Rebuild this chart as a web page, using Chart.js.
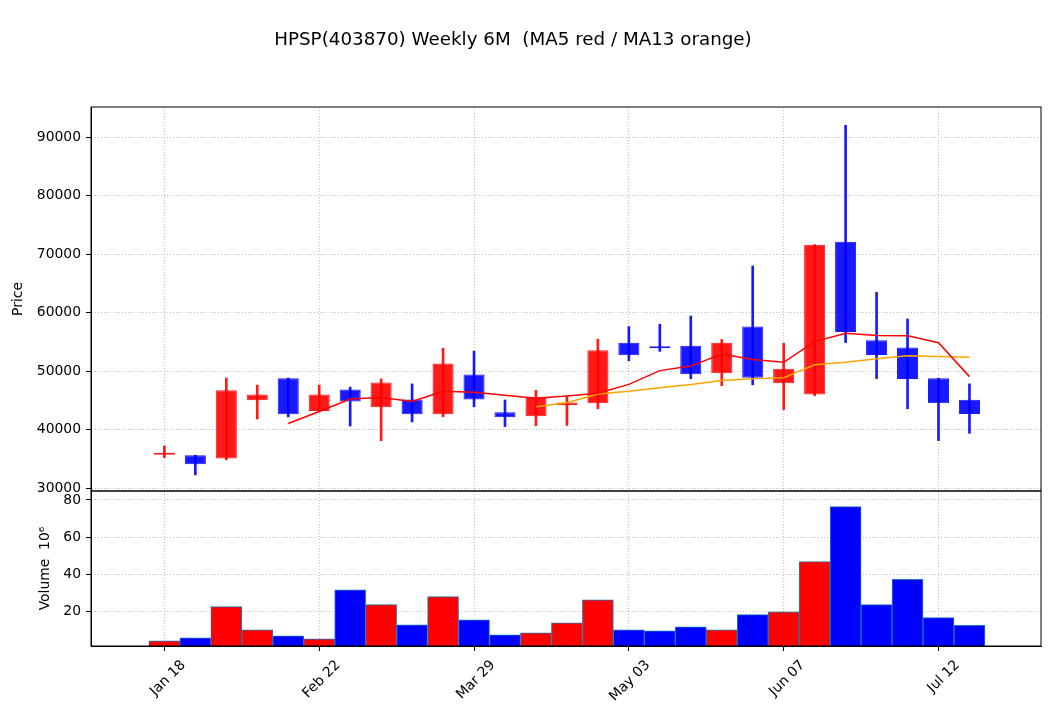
<!DOCTYPE html>
<html>
<head>
<meta charset="utf-8">
<title>HPSP(403870) Weekly 6M</title>
<script src="https://cdn.jsdelivr.net/npm/chart.js@4.4.1/dist/chart.umd.min.js"></script>
<style>
  html, body { margin: 0; padding: 0; background: #fff; }
  #wrap { width: 1052px; height: 718px; }
</style>
</head>
<body>
<div id="wrap"><canvas id="chart" width="1052" height="718"></canvas></div>
<script>
// weekly candles, one per week starting Jan 18
const weeks = [0, 1, 2, 3, 4, 5, 6, 7, 8, 9, 10, 11, 12, 13, 14, 15, 16, 17, 18, 19, 20, 21, 22, 23, 24, 25, 26];
const opens  = [35700, 35600, 35050, 45000, 48750, 43150, 46850, 43800, 45150, 42600, 49400, 42950, 42250, 44200, 44500, 54850, 54200, 54300, 49600, 57600, 47900, 46000, 72100, 55250, 54000, 48750, 45100];
const highs  = [37200, 35600, 48800, 47600, 48800, 47600, 47250, 48650, 47800, 53900, 53400, 45050, 46700, 45700, 55450, 57600, 58000, 59400, 55400, 67950, 54750, 71600, 92000, 63450, 58900, 48750, 47800];
const lows   = [35200, 32250, 34800, 41800, 42150, 43100, 40600, 38100, 41300, 42200, 43900, 40500, 40650, 40700, 43550, 51750, 53350, 48700, 47500, 47650, 43400, 45800, 54850, 48700, 43550, 38100, 39350];
const closes = [35800, 34050, 46700, 46000, 42600, 46000, 44800, 48050, 42600, 51300, 45150, 42100, 45600, 44600, 53550, 52700, 53900, 49450, 54850, 48850, 50400, 71600, 56650, 52750, 48650, 44500, 42650];
const ma5  = [null, null, null, null, 41030, 43070, 45220, 45490, 44810, 46550, 46380, 45840, 45350, 45750, 46200, 47710, 50070, 50840, 52890, 51950, 51490, 55030, 56470, 56050, 56010, 54830, 49040];
const ma13 = [null, null, null, null, null, null, null, null, null, null, null, null, 43900, 44580, 46080, 46540, 47150, 47680, 48360, 48670, 48850, 51080, 51490, 52080, 52590, 52500, 52350];
const volumes = [4.4, 6.0, 22.7, 10.3, 7.1, 5.5, 31.8, 23.8, 13.0, 28.1, 15.7, 7.6, 8.7, 14.1, 26.4, 10.3, 9.8, 11.9, 10.3, 18.4, 20.0, 46.9, 76.4, 23.8, 37.4, 16.8, 12.7];

const xTickIdx = [0, 5, 10, 15, 20, 25];
const xTickLabels = ['Jan 18', 'Feb 22', 'Mar 29', 'May 03', 'Jun 07', 'Jul 12'];
const priceTicks = [30000, 40000, 50000, 60000, 70000, 80000, 90000];
const volumeTicks = [20, 40, 60, 80];

const FONT = 'DejaVu Sans';
const UP = 'rgba(255,0,0,0.9)';
const DOWN = 'rgba(0,0,255,0.9)';

const isUp = weeks.map(i => closes[i] >= opens[i]);
const candleColor = isUp.map(u => u ? UP : DOWN);
const volColor = isUp.map(u => u ? '#ff0000' : '#0000ff');

// frame around each panel + suptitle + axis labels
const framePlugin = {
    id: 'frame',
    afterDraw(chart) {
        const ctx = chart.ctx;
        const { left, right } = chart.chartArea;
        const yp = chart.scales.y;
        const yv = chart.scales.yv;
        ctx.save();
        ctx.strokeStyle = '#000';
        ctx.lineWidth = 1;
        ctx.strokeRect(left, yp.top, right - left, yp.bottom - yp.top);
        ctx.strokeRect(left, yv.top, right - left, yv.bottom - yv.top);

        ctx.fillStyle = '#000';
        ctx.textAlign = 'center';
        ctx.textBaseline = 'middle';
        ctx.font = '18.3px "' + FONT + '"';
        ctx.fillText('HPSP(403870) Weekly 6M  (MA5 red / MA13 orange)', 513, 40);

        ctx.font = '13.9px "' + FONT + '"';
        ctx.save();
        ctx.translate(18, (yp.top + yp.bottom) / 2);
        ctx.rotate(-Math.PI / 2);
        ctx.fillText('Price', 0, 0);
        ctx.restore();
        ctx.save();
        ctx.translate(45, (yv.top + yv.bottom) / 2);
        ctx.rotate(-Math.PI / 2);
        ctx.fillText('Volume  10\u2076', 0, 0);
        ctx.restore();
        ctx.restore();
    }
};

const gridCommon = {
    color: '#b0b0b0',
    lineWidth: 0.8,
    tickColor: '#000',
    tickLength: 5,
    tickWidth: 1
};

new Chart(document.getElementById('chart'), {
    type: 'bar',
    data: {
        datasets: [
            {
                label: 'wick',
                data: weeks.map(i => ({ x: i, y: [lows[i], highs[i]] })),
                backgroundColor: candleColor,
                borderWidth: 0,
                barThickness: 2,
                grouped: false,
                yAxisID: 'y',
                order: 3
            },
            {
                label: 'body',
                data: weeks.map(i => ({ x: i, y: [opens[i], closes[i]] })),
                backgroundColor: candleColor,
                borderColor: candleColor,
                borderWidth: 1,
                borderSkipped: false,
                minBarLength: 2,
                barPercentage: 0.68,
                categoryPercentage: 1,
                grouped: false,
                yAxisID: 'y',
                order: 2
            },
            {
                type: 'line',
                label: 'MA5',
                data: weeks.map(i => ({ x: i, y: ma5[i] })),
                borderColor: 'red',
                borderWidth: 1.5,
                pointRadius: 0,
                tension: 0,
                yAxisID: 'y',
                order: 1
            },
            {
                type: 'line',
                label: 'MA13',
                data: weeks.map(i => ({ x: i, y: ma13[i] })),
                borderColor: 'orange',
                borderWidth: 1.5,
                pointRadius: 0,
                tension: 0,
                yAxisID: 'y',
                order: 1
            },
            {
                label: 'Volume',
                data: weeks.map(i => ({ x: i, y: volumes[i] })),
                backgroundColor: volColor,
                borderColor: '#1f77b4',
                borderWidth: 1,
                borderSkipped: false,
                barPercentage: 1,
                categoryPercentage: 1,
                grouped: false,
                yAxisID: 'yv',
                order: 4
            }
        ]
    },
    options: {
        responsive: false,
        animation: false,
        events: [],
        layout: { padding: { left: 0, right: 11, top: 107, bottom: 0 } },
        plugins: {
            legend: { display: false },
            tooltip: { enabled: false },
            title: { display: false }
        },
        scales: {
            x: {
                type: 'linear',
                min: -2.37,
                max: 28.31,
                offset: false,
                grid: Object.assign({ offset: false }, gridCommon),
                border: { display: true, color: '#000', width: 1, dash: [1, 2] },
                afterBuildTicks: s => { s.ticks = xTickIdx.map(v => ({ value: v })); },
                afterFit: s => { s.height = 72; },
                ticks: {
                    autoSkip: false,
                    minRotation: 45,
                    maxRotation: 45,
                    labelOffset: 19,
                    padding: 6,
                    color: '#000',
                    font: { family: FONT, size: 13.9 },
                    callback: v => xTickLabels[xTickIdx.indexOf(v)]
                }
            },
            y: {
                type: 'linear',
                position: 'left',
                stack: 'panels',
                stackWeight: 384,
                weight: 2,
                min: 29490,
                max: 95130,
                beginAtZero: false,
                grid: gridCommon,
                border: { display: true, color: '#000', width: 1, dash: [1, 2] },
                afterBuildTicks: s => { s.ticks = priceTicks.map(v => ({ value: v })); },
                afterFit: s => { s.width = 91; },
                ticks: {
                    padding: 5,
                    color: '#000',
                    font: { family: FONT, size: 13.9 },
                    callback: v => String(v)
                }
            },
            yv: {
                type: 'linear',
                position: 'left',
                stack: 'panels',
                stackWeight: 155,
                weight: 1,
                min: 1.6,
                max: 84.8,
                beginAtZero: false,
                grid: gridCommon,
                border: { display: true, color: '#000', width: 1, dash: [1, 2] },
                afterBuildTicks: s => { s.ticks = volumeTicks.map(v => ({ value: v })); },
                afterFit: s => { s.width = 91; },
                ticks: {
                    padding: 5,
                    color: '#000',
                    font: { family: FONT, size: 13.9 },
                    callback: v => String(v)
                }
            }
        }
    },
    plugins: [framePlugin]
});
</script>
</body>
</html>
